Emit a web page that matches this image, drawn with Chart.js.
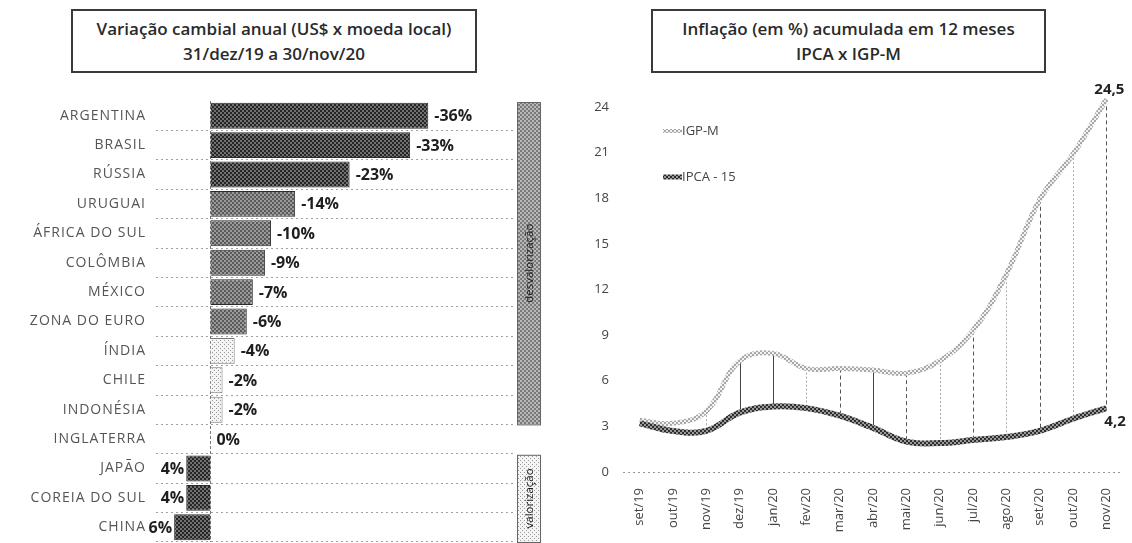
<!DOCTYPE html>
<html>
<head>
<meta charset="utf-8">
<script src="https://cdn.jsdelivr.net/npm/chart.js@4.4.0/dist/chart.umd.min.js"></script>
<style>
  body { margin: 0; background: #fff; width: 1132px; height: 543px; overflow: hidden; position: relative; font-family: "Open Sans", sans-serif; color: #222; }
  .wrap { position: absolute; top: 0; }
  .box { position: absolute; border: 2px solid #3a3a3a; text-align: center; font-size: 17px; font-weight: 600; line-height: 25px; padding-top: 5px; box-sizing: border-box; background: #fff; color: #2a2a2a; white-space: nowrap; }
</style>
</head>
<body>
<div class="wrap" style="left:0"><canvas id="fxChart" width="560" height="543"></canvas></div>
<div class="wrap" style="left:560px"><canvas id="inflChart" width="572" height="543"></canvas></div>
<div class="box" style="left:71px;top:9px;width:406px;height:64px">Variação cambial anual (US$ x moeda local)<br>31/dez/19 a 30/nov/20</div>
<div class="box" style="left:651px;top:9px;width:395px;height:64px">Inflação (em %) acumulada em 12 meses<br>IPCA x IGP-M</div>
<script>
const countries = ["ARGENTINA", "BRASIL", "RÚSSIA", "URUGUAI", "ÁFRICA DO SUL", "COLÔMBIA", "MÉXICO", "ZONA DO EURO", "ÍNDIA", "CHILE", "INDONÉSIA", "INGLATERRA", "JAPÃO", "COREIA DO SUL", "CHINA"];
const fxChange = [-36, -33, -23, -14, -10, -9, -7, -6, -4, -2, -2, 0, 4, 4, 6];

const months = ["set/19", "out/19", "nov/19", "dez/19", "jan/20", "fev/20", "mar/20", "abr/20", "mai/20", "jun/20", "jul/20", "ago/20", "set/20", "out/20", "nov/20"];
const igpm = [3.4, 3.2, 4.0, 7.3, 7.8, 6.8, 6.8, 6.7, 6.5, 7.3, 9.3, 13.0, 17.9, 20.9, 24.5];
const ipca15 = [3.2, 2.7, 2.7, 3.9, 4.3, 4.2, 3.7, 2.9, 2.0, 1.9, 2.1, 2.3, 2.7, 3.5, 4.2];
const inflTicks = [0, 3, 6, 9, 12, 15, 18, 21, 24];

// line style of the vertical connectors, month by month
const dropStyle = ["none", "none", "dot", "solid", "solid", "dot", "dash", "solid", "dash", "dot", "dash", "dot", "dash", "dot", "dash"];

Chart.defaults.font.family = "'Open Sans', sans-serif";

function makePattern(bg, fg, size) {
  const c = document.createElement("canvas");
  c.width = c.height = size;
  const g = c.getContext("2d");
  g.fillStyle = bg;
  g.fillRect(0, 0, size, size);
  g.fillStyle = fg;
  g.fillRect(0, 0, size / 2, size / 2);
  g.fillRect(size / 2, size / 2, size / 2, size / 2);
  return g.createPattern(c, "repeat");
}

function makeDots(bg, fg) {
  const c = document.createElement("canvas");
  c.width = c.height = 4;
  const g = c.getContext("2d");
  g.fillStyle = bg;
  g.fillRect(0, 0, 4, 4);
  g.fillStyle = fg;
  g.fillRect(0, 0, 1, 1);
  g.fillRect(2, 2, 1, 1);
  return g.createPattern(c, "repeat");
}

const darkFill = makePattern("#262626", "#707070", 4);
const midFill = makePattern("#5a5a5a", "#9a9a9a", 4);
const lightFill = makeDots("#f4f4f4", "#9a9a9a");
const bandFill = makePattern("#7a7a7a", "#b8b8b8", 4);
const ipcaLine = makePattern("#2e2e2e", "#9a9a9a", 4);
const igpmLine = makePattern("#a8a8a8", "#f2f2f2", 4);

function barFill(v) {
  if (v > 0 || v <= -20) return darkFill;
  if (v <= -5) return midFill;
  return lightFill;
}

// ---------- left: exchange rate ----------
const fxSpacing = {
  id: "fxSpacing",
  beforeDraw(chart) { chart.ctx.letterSpacing = "1px"; },
  beforeDatasetsDraw(chart) {
    chart.ctx.letterSpacing = "0px";
    // zero line
    const ctx = chart.ctx;
    const x = Math.round(chart.scales.x.getPixelForValue(0)) + 0.5;
    ctx.save();
    ctx.strokeStyle = "#777";
    ctx.setLineDash([3, 2]);
    ctx.beginPath();
    ctx.moveTo(x, chart.chartArea.top);
    ctx.lineTo(x, chart.chartArea.bottom);
    ctx.stroke();
    ctx.restore();
  }
};

const fxLabels = {
  id: "fxLabels",
  afterDatasetsDraw(chart) {
    const ctx = chart.ctx;
    const meta = chart.getDatasetMeta(0);
    ctx.save();
    ctx.font = "bold 16px 'Open Sans'";
    ctx.fillStyle = "#1e1e1e";
    ctx.textBaseline = "middle";
    meta.data.forEach((bar, i) => {
      const v = fxChange[i];
      if (v > 0) {
        ctx.textAlign = "right";
        ctx.fillText(v + "%", bar.x - 2, bar.y + 1);
      } else {
        ctx.textAlign = "left";
        ctx.fillText(v + "%", bar.x + 6, bar.y + 1);
      }
    });
    ctx.restore();
  }
};

const fxBands = {
  id: "fxBands",
  afterDraw(chart) {
    const ctx = chart.ctx;
    const y = chart.scales.y;
    const ca = chart.chartArea;
    const half = (y.getPixelForValue(1) - y.getPixelForValue(0)) / 2;
    const neg = fxChange.map((v, i) => v < 0 ? i : -1).filter(i => i >= 0);
    const pos = fxChange.map((v, i) => v > 0 ? i : -1).filter(i => i >= 0);
    const bands = [
      { idx: neg, fill: bandFill, text: "desvalorização" },
      { idx: pos, fill: lightFill, text: "valorização" }
    ];
    const x0 = ca.right + 4, w = 23;
    ctx.save();
    bands.forEach(b => {
      const top = y.getPixelForValue(b.idx[0]) - half + 1;
      const bottom = Math.min(y.getPixelForValue(b.idx[b.idx.length - 1]) + half, chart.height + 2);
      ctx.fillStyle = b.fill;
      ctx.fillRect(x0, top, w, bottom - top);
      ctx.strokeStyle = "#666";
      ctx.lineWidth = 1;
      ctx.strokeRect(x0 + 0.5, top + 0.5, w, bottom - top);
      ctx.save();
      ctx.translate(x0 + w / 2 + 1, (top + bottom) / 2);
      ctx.rotate(-Math.PI / 2);
      ctx.font = "11.5px 'Open Sans'";
      ctx.fillStyle = "#1a1a1a";
      ctx.textAlign = "center";
      ctx.textBaseline = "middle";
      ctx.fillText(b.text, 0, 0);
      ctx.restore();
    });
    ctx.restore();
  }
};

new Chart(document.getElementById("fxChart"), {
  type: "bar",
  data: {
    labels: countries,
    datasets: [{
      data: fxChange,
      backgroundColor: ctx => barFill(fxChange[ctx.dataIndex]),
      borderColor: ctx => (fxChange[ctx.dataIndex] > -5 && fxChange[ctx.dataIndex] < 0) ? "#777" : "#2a2a2a",
      borderWidth: 1,
      barPercentage: 0.88,
      categoryPercentage: 1
    }]
  },
  options: {
    indexAxis: "y",
    responsive: false,
    animation: false,
    devicePixelRatio: 1,
    layout: { padding: { top: 101, right: 47, bottom: 1, left: 0 } },
    plugins: { legend: { display: false }, tooltip: { enabled: false } },
    scales: {
      x: {
        display: false,
        min: -50,
        max: 9,
        reverse: true
      },
      y: {
        afterFit: s => { s.width = 156; s.paddingTop = 0; s.paddingBottom = 0; },
        ticks: { color: "#555", font: { size: 14 }, padding: 10 },
        grid: { offset: true, drawTicks: false, color: c => c.index === 0 ? "transparent" : "#a0a0a0" },
        border: { display: false, dash: [2, 3] }
      }
    }
  },
  plugins: [fxSpacing, fxLabels, fxBands]
});

// ---------- right: inflation ----------
const dropLines = {
  id: "dropLines",
  beforeDatasetsDraw(chart) {
    const ctx = chart.ctx;
    const hi = chart.getDatasetMeta(1).data;
    const lo = chart.getDatasetMeta(0).data;
    ctx.save();
    hi.forEach((p, i) => {
      const s = dropStyle[i];
      if (s === "none") return;
      ctx.beginPath();
      ctx.lineWidth = 1;
      if (s === "solid") { ctx.strokeStyle = "#444"; ctx.setLineDash([]); }
      else if (s === "dash") { ctx.strokeStyle = "#555"; ctx.setLineDash([4, 3]); }
      else { ctx.strokeStyle = "#aaa"; ctx.setLineDash([2, 2]); }
      ctx.moveTo(Math.round(p.x) + 0.5, p.y);
      ctx.lineTo(Math.round(p.x) + 0.5, lo[i].y);
      ctx.stroke();
    });
    ctx.restore();
  }
};

const inflDecor = {
  id: "inflDecor",
  afterDraw(chart) {
    const ctx = chart.ctx;
    const hi = chart.getDatasetMeta(1).data;
    const lo = chart.getDatasetMeta(0).data;
    const last = months.length - 1;
    ctx.save();
    // end values
    ctx.font = "bold 15px 'Open Sans'";
    ctx.fillStyle = "#222";
    ctx.textAlign = "center";
    ctx.textBaseline = "bottom";
    ctx.fillText(String(igpm[last]).replace(".", ","), hi[last].x + 3, hi[last].y - 2);
    ctx.textAlign = "left";
    ctx.textBaseline = "middle";
    ctx.fillText(String(ipca15[last]).replace(".", ","), lo[last].x - 2, lo[last].y + 14);
    // legend
    const items = [
      { text: "IGP-M", style: igpmLine, width: 4, y: chart.chartArea.top + 24 },
      { text: "IPCA - 15", style: ipcaLine, width: 5, y: chart.chartArea.top + 70 }
    ];
    const lx = chart.chartArea.left + 40;
    items.forEach(it => {
      ctx.beginPath();
      ctx.strokeStyle = it.style;
      ctx.lineWidth = it.width;
      ctx.moveTo(lx, it.y);
      ctx.lineTo(lx + 19, it.y);
      ctx.stroke();
      ctx.font = "13px 'Open Sans'";
      ctx.fillStyle = "#444";
      ctx.textAlign = "left";
      ctx.fillText(it.text, lx + 19, it.y);
    });
    ctx.restore();
  }
};

new Chart(document.getElementById("inflChart"), {
  type: "line",
  data: {
    labels: months,
    datasets: [
      {
        label: "IPCA - 15",
        data: ipca15,
        borderColor: ipcaLine,
        borderWidth: 6,
        pointRadius: 0,
        tension: 0.4,
        clip: false,
        order: 0
      },
      {
        label: "IGP-M",
        data: igpm,
        borderColor: igpmLine,
        borderWidth: 5,
        pointRadius: 0,
        tension: 0.4,
        clip: false,
        order: 1
      }
    ]
  },
  options: {
    responsive: false,
    animation: false,
    devicePixelRatio: 1,
    layout: { padding: { top: 107, right: 9, bottom: 0, left: 0 } },
    plugins: { legend: { display: false }, tooltip: { enabled: false } },
    scales: {
      x: {
        offset: true,
        afterFit: s => { s.height = 71; },
        ticks: { color: "#444", font: { size: 13 }, minRotation: 90, maxRotation: 90, autoSkip: false, padding: 8 },
        grid: { display: false },
        border: { display: false }
      },
      y: {
        min: 0,
        max: 24,
        afterFit: s => { s.width = 63; },
        afterBuildTicks: s => { s.ticks = inflTicks.map(v => ({ value: v })); },
        ticks: { color: "#444", font: { size: 13 }, padding: 14 },
        grid: { drawTicks: false, color: c => c.tick && c.tick.value === 0 ? "#999" : "transparent" },
        border: { display: false, dash: [2, 3] }
      }
    }
  },
  plugins: [dropLines, inflDecor]
});
</script>
</body>
</html>
